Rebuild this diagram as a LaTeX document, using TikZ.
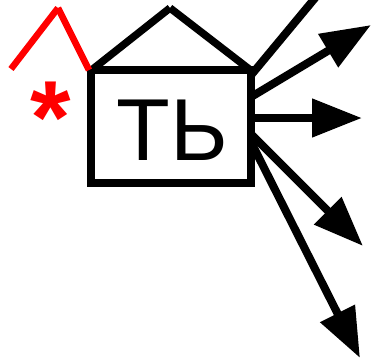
\documentclass[tikz,border=0pt]{standalone}
\usepackage{fontspec}
\usetikzlibrary{arrows.meta}
\newfontfamily\labfont{Liberation Sans}
\tikzset{
  boxline/.style={draw=black,line width=8pt},
  roofline/.style={draw=black,line width=7.5pt},
  redline/.style={draw=red,line width=6.5pt},
  ray/.style={draw=black,line width=8pt},
  rayarrow/.style={ray,-{Triangle[length=50pt,width=37pt]}},
}
\begin{document}
\begin{tikzpicture}[x=1pt,y=-1pt]
\useasboundingbox (0,0) rectangle (372,361);
\clip (0,0) rectangle (372,361);
% box
\coordinate (bl) at (91,183);
\coordinate (tr) at (251,70.5);
\coordinate (tl) at (91,70.5);
\draw[boxline] (bl) rectangle (tr);
\node[font=\labfont\fontsize{88}{88}\selectfont,inner sep=0pt,anchor=base] (lab) at (172,160) {ТЬ};
% roof
\coordinate (apex) at (170,8);
\draw[roofline] (tl) -- (apex);
\draw[roofline] (apex) -- (tr);
% red lines
\coordinate (r0) at (11,69);
\coordinate (r1) at (58,8);
\coordinate (r2) at (89,70);
\draw[redline] (r0) -- (r1);
\draw[redline] (r1) -- (r2);
\node[text=red,font=\labfont\bfseries\fontsize{104}{104}\selectfont,inner sep=0pt,anchor=base] (ast) at (51,153) {*};
% rays
\coordinate (s1) at (252,74);
\coordinate (e1) at (330,-20);
\draw[ray] (s1) -- (e1);
\coordinate (s2) at (251,97);
\coordinate (e2) at (371,25);
\draw[rayarrow] (s2) -- (e2);
\coordinate (s3) at (251,118);
\coordinate (e3) at (362,118);
\draw[rayarrow] (s3) -- (e3);
\coordinate (s4) at (251,134);
\coordinate (e4) at (363,246);
\draw[rayarrow] (s4) -- (e4);
\coordinate (s5) at (251,142);
\coordinate (e5) at (360,358);
\draw[rayarrow] (s5) -- (e5);
\end{tikzpicture}
\end{document}
